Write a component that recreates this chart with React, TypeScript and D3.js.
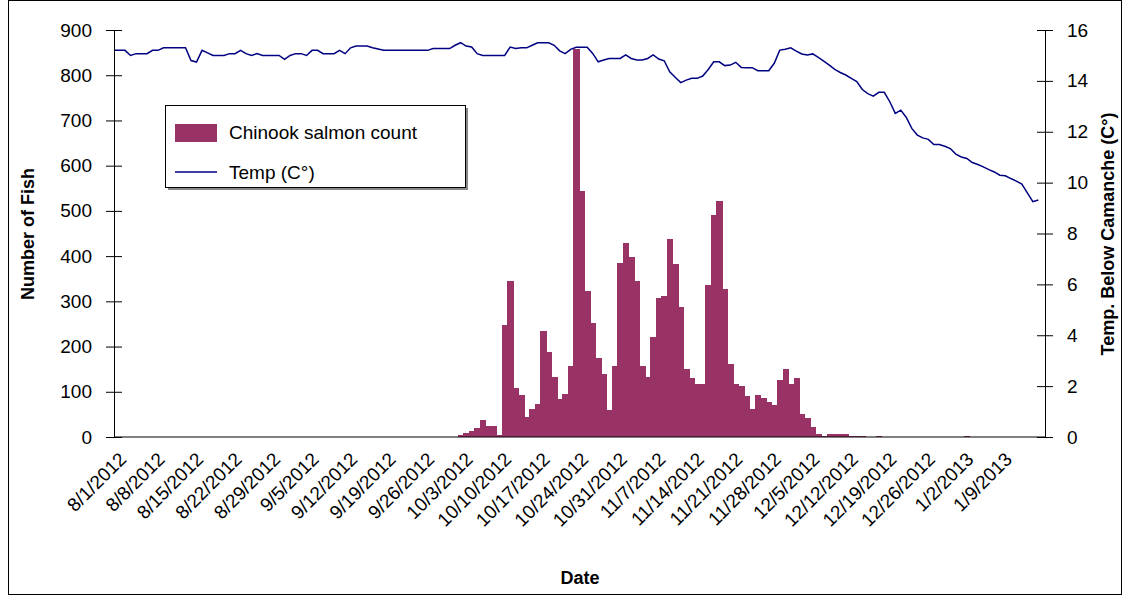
import { useEffect, useRef } from "react";
import * as d3 from "d3";

const START = new Date(2012, 7, 1);
const FIRST_FISH_DAY = 63;

// daily Chinook salmon counts starting 10/3/2012
const FISH = [
  4, 9, 13, 20, 37, 24, 24, 4, 247, 344, 108, 92, 44, 63, 72, 234, 187, 132, 83, 94,
  158, 858, 543, 322, 253, 174, 139, 59, 158, 384, 428, 397, 344, 158, 132, 222,
  307, 312, 438, 382, 287, 150, 130, 117, 117, 336, 491, 522, 327, 161, 117, 113,
  91, 62, 93, 86, 77, 71, 126, 150, 117, 130, 51, 42, 22, 7, 2, 7, 7, 7, 7, 2, 2, 2,
  0, 0, 2,
];
const LATE_FISH = [{ day: 155, n: 2 }];

// daily temperature from 8/1/2012
const TEMP = [
  15.2, 15.2, 15.2, 15.0, 15.07, 15.07, 15.07, 15.2, 15.2, 15.3, 15.3, 15.3, 15.3, 15.3,
  14.8, 14.74, 15.2, 15.1, 15.0, 15.0, 15.0, 15.07, 15.07, 15.2, 15.07, 15.0, 15.07,
  15.0, 15.0, 15.0, 15.0, 14.85, 15.0, 15.07, 15.07, 15.0, 15.2, 15.2, 15.07, 15.07,
  15.07, 15.2, 15.07, 15.3, 15.37, 15.37, 15.37, 15.3, 15.25, 15.2, 15.2, 15.2, 15.2,
  15.2, 15.2, 15.2, 15.2, 15.2, 15.27, 15.27, 15.27, 15.27, 15.4, 15.5, 15.37, 15.33,
  15.07, 15.0, 15.0, 15.0, 15.0, 15.0, 15.33, 15.27, 15.3, 15.3, 15.4, 15.5, 15.5,
  15.5, 15.4, 15.18, 15.07, 15.24, 15.32, 15.32, 15.32, 15.08, 14.75, 14.82, 14.88,
  14.88, 14.88, 15.02, 14.88, 14.82, 14.82, 14.88, 15.02, 14.86, 14.79, 14.36, 14.14,
  13.93, 14.03, 14.1, 14.1, 14.19, 14.45, 14.75, 14.75, 14.6, 14.62, 14.73, 14.53,
  14.52, 14.52, 14.4, 14.4, 14.4, 14.69, 15.21, 15.24, 15.3, 15.17, 15.06, 15.02,
  15.06, 14.92, 14.78, 14.62, 14.45, 14.33, 14.23, 14.1, 13.97, 13.66, 13.5, 13.4,
  13.55, 13.55, 13.18, 12.72, 12.85, 12.56, 12.13, 11.87, 11.76, 11.7, 11.5, 11.5,
  11.43, 11.34, 11.12, 11.01, 10.95, 10.79, 10.71, 10.62, 10.51, 10.42, 10.29, 10.27,
  10.16, 10.06, 9.94, 9.6, 9.25, 9.32,
];

const FISH_TICKS = [0, 100, 200, 300, 400, 500, 600, 700, 800, 900];
const TEMP_TICKS = [0, 2, 4, 6, 8, 10, 12, 14, 16];

const FONT = "Liberation Sans, Arial, sans-serif";
const BAR = "#993366";
const LINE = "#000080";

export default function App() {
  const svgRef = useRef<SVGSVGElement>(null);

  useEffect(() => {
    if (!svgRef.current) return;
    const svg = d3.select(svgRef.current);
    svg.selectAll("*").remove();

    const W = 1130, H = 596;
    const m = { left: 114, right: 1045, top: 30, bottom: 437 };
    const day = (i: number) => d3.timeDay.offset(START, i);

    const x = d3.scaleTime()
      .domain([START, d3.timeHour.offset(day(169), 5)])
      .range([m.left, m.right]);
    const y = d3.scaleLinear().domain([0, 900]).range([m.bottom, m.top]);
    const y2 = d3.scaleLinear().domain([0, 16]).range([m.bottom, m.top]);
    const bw = x(day(1)) - x(day(0));

    svg.append("rect").attr("x", 8.5).attr("y", 0.5).attr("width", 1113).attr("height", 594)
      .attr("fill", "white").attr("stroke", "#000");

    const bars = [
      ...FISH.map((n, i) => ({ day: FIRST_FISH_DAY + i, n })),
      ...LATE_FISH,
    ];
    svg.append("g").attr("shape-rendering", "crispEdges")
      .selectAll("rect").data(bars).join("rect")
      .attr("x", (d) => x(day(d.day)) - bw / 2)
      .attr("width", bw + 0.8)
      .attr("y", (d) => y(d.n))
      .attr("height", (d) => m.bottom - y(d.n))
      .attr("fill", BAR);

    const line = d3.line<number>()
      .x((_, i) => x(day(i)))
      .y((d) => y2(d));
    svg.append("path").datum(TEMP).attr("d", line)
      .attr("fill", "none").attr("stroke", LINE).attr("stroke-width", 1.5);

    // axes
    const styleAxis = (g: d3.Selection<SVGGElement, unknown, null, undefined>) => {
      g.select(".domain").attr("stroke", "#000");
      g.selectAll(".tick line").attr("stroke", "#000");
      g.selectAll(".tick text").attr("fill", "#000").attr("font-family", FONT).attr("font-size", 19);
    };
    svg.append("g").attr("transform", `translate(${m.left},0)`)
      .call(d3.axisLeft(y).tickValues(FISH_TICKS).tickSizeInner(8).tickSizeOuter(0).tickPadding(14))
      .call(styleAxis)
      .call((g) => g.selectAll(".tick line").attr("x2", -8).attr("x1", 8));
    svg.append("g").attr("transform", `translate(${m.right},0)`)
      .call(d3.axisRight(y2).tickValues(TEMP_TICKS).tickSizeInner(8).tickSizeOuter(0).tickPadding(14))
      .call(styleAxis)
      .call((g) => g.selectAll(".tick line").attr("x1", -8).attr("x2", 8));
    svg.append("line").attr("x1", m.left).attr("x2", m.right).attr("y1", m.bottom).attr("y2", m.bottom)
      .attr("stroke", "#000");

    const xt = d3.range(0, 162, 7).map(day);
    const fmt = d3.timeFormat("%-m/%-d/%Y");
    svg.append("g").selectAll("text").data(xt).join("text")
      .attr("transform", (d) => `translate(${x(d) + 4},${m.bottom + 14}) rotate(-45)`)
      .attr("text-anchor", "end")
      .attr("dy", "0.7em")
      .attr("font-family", FONT).attr("font-size", 19)
      .text((d) => fmt(d));

    // titles
    const bold = (t: string, tx: number, ty: number, rot = 0) =>
      svg.append("text").attr("transform", `translate(${tx},${ty}) rotate(${rot})`)
        .attr("text-anchor", "middle").attr("font-family", FONT).attr("font-size", 18)
        .attr("font-weight", "bold").text(t);
    bold("Number of Fish", 34, 234, -90);
    bold("Temp. Below Camanche (C°)", 1114, 234, -90);
    bold("Date", 580, 584);

    // legend
    const lg = svg.append("g").attr("transform", "translate(165,105)");
    lg.append("rect").attr("x", 3).attr("y", 3).attr("width", 300).attr("height", 82).attr("fill", "#888");
    lg.append("rect").attr("x", 0.5).attr("y", 0.5).attr("width", 300).attr("height", 82)
      .attr("fill", "white").attr("stroke", "#000");
    lg.append("rect").attr("x", 10).attr("y", 19).attr("width", 42).attr("height", 18).attr("fill", BAR);
    lg.append("line").attr("x1", 10).attr("x2", 52).attr("y1", 67).attr("y2", 67)
      .attr("stroke", LINE).attr("stroke-width", 1.5);
    lg.append("text").attr("x", 64).attr("y", 34).attr("font-family", FONT).attr("font-size", 19)
      .text("Chinook salmon count");
    lg.append("text").attr("x", 64).attr("y", 74).attr("font-family", FONT).attr("font-size", 19)
      .text("Temp (C°)");

    svg.attr("width", W).attr("height", H);
  }, []);

  return (
    <svg ref={svgRef} width={1130} height={596}
      style={{ position: "absolute", left: 0, top: 0, display: "block" }} />
  );
}
